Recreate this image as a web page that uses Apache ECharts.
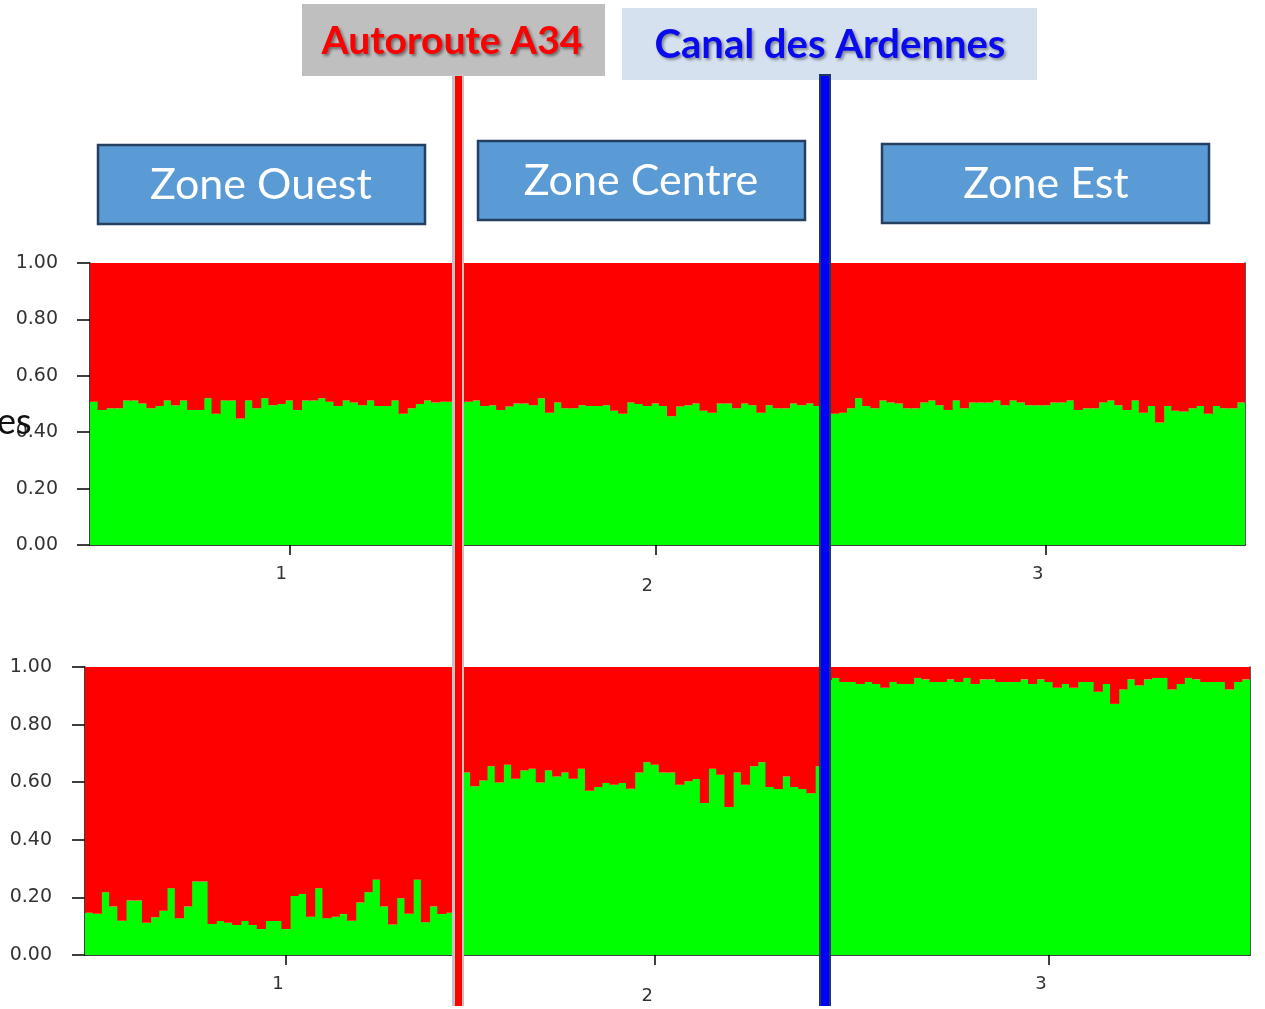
<!DOCTYPE html>
<html>
<head>
<meta charset="utf-8">
<script src="https://cdn.jsdelivr.net/npm/echarts@6/dist/echarts.min.js"></script>
<style>
  html, body { margin: 0; padding: 0; background: #ffffff; }
  #chart { width: 1265px; height: 1009px; }
</style>
</head>
<body>
<div id="chart"></div>
<script>
// Population sizes (number of individuals) and their axis labels
const popSizes = [45, 45, 52];
const popLabels = ['1', '2', '3'];
const zoneNames = ['Zone Ouest', 'Zone Centre', 'Zone Est'];
const barrierNames = ['Autoroute A34', 'Canal des Ardennes'];

// Upper run: membership of each individual in the green cluster
const runA_pop1 = [0.508,0.479,0.485,0.485,0.512,0.512,0.502,0.485,0.493,0.512,
                   0.496,0.512,0.479,0.479,0.520,0.465,0.512,0.512,0.449,0.512,
                   0.485,0.520,0.496,0.500,0.512,0.479,0.512,0.512,0.520,0.508,
                   0.493,0.512,0.505,0.496,0.512,0.493,0.493,0.512,0.465,0.485,
                   0.500,0.512,0.505,0.508,0.508];
const runA_pop2 = [0.505,0.508,0.512,0.493,0.496,0.479,0.491,0.502,0.502,0.496,
                   0.520,0.469,0.505,0.485,0.485,0.496,0.493,0.493,0.496,0.476,
                   0.465,0.505,0.500,0.493,0.502,0.493,0.457,0.491,0.496,0.502,
                   0.476,0.469,0.502,0.502,0.485,0.502,0.496,0.469,0.496,0.485,
                   0.485,0.502,0.496,0.502,0.493];
const runA_pop3 = [0.470,0.465,0.469,0.485,0.520,0.493,0.485,0.512,0.505,0.502,
                   0.485,0.485,0.505,0.512,0.496,0.479,0.512,0.485,0.505,0.505,
                   0.505,0.512,0.496,0.512,0.505,0.496,0.496,0.496,0.505,0.505,
                   0.512,0.479,0.485,0.485,0.505,0.512,0.496,0.479,0.512,0.469,
                   0.493,0.434,0.493,0.476,0.473,0.485,0.493,0.465,0.493,0.485,
                   0.485,0.505];

// Lower run: membership of each individual in the green cluster
const runB_pop1 = [0.147,0.143,0.218,0.168,0.119,0.189,0.189,0.112,0.131,0.154,
                   0.232,0.128,0.168,0.255,0.255,0.108,0.118,0.112,0.104,0.118,
                   0.104,0.090,0.118,0.118,0.090,0.205,0.212,0.133,0.232,0.128,
                   0.133,0.142,0.119,0.182,0.218,0.261,0.168,0.106,0.197,0.143,
                   0.261,0.114,0.168,0.142,0.147];
const runB_pop2 = [0.620,0.634,0.586,0.606,0.655,0.599,0.661,0.612,0.641,0.647,
                   0.599,0.641,0.620,0.634,0.612,0.647,0.570,0.583,0.597,0.591,
                   0.597,0.577,0.634,0.669,0.661,0.634,0.634,0.591,0.603,0.611,
                   0.528,0.647,0.626,0.514,0.634,0.591,0.655,0.669,0.583,0.576,
                   0.620,0.583,0.576,0.562,0.655];
const runB_pop3 = [0.955,0.962,0.948,0.948,0.941,0.948,0.941,0.928,0.948,0.941,
                   0.941,0.962,0.957,0.948,0.948,0.957,0.948,0.962,0.941,0.957,
                   0.957,0.948,0.948,0.948,0.957,0.941,0.957,0.948,0.928,0.941,
                   0.928,0.948,0.948,0.914,0.941,0.872,0.922,0.957,0.936,0.957,
                   0.962,0.962,0.922,0.941,0.962,0.957,0.948,0.948,0.948,0.922,
                   0.948,0.957];

const GREEN = '#00ff00';
const RED = '#ff0000';
const FONT_AXIS = '"DejaVu Sans", sans-serif';
const FONT_HEAD = 'Lato, "Noto Sans", sans-serif';

const runA = runA_pop1.concat(runA_pop2, runA_pop3);
const runB = runB_pop1.concat(runB_pop2, runB_pop3);
const individuals = runA.map((_, i) => String(i + 1));

// Category index carrying each population's tick and label
const labelIndex = [24, 69, 117];
const showAt = (idx) => labelIndex.indexOf(idx) >= 0;

function xAxisFor(gridIndex) {
  return {
    type: 'category',
    gridIndex: gridIndex,
    data: individuals,
    boundaryGap: true,
    axisLine: { show: true, lineStyle: { color: '#000', width: 1.5 } },
    axisTick: {
      show: true, alignWithLabel: true, length: 10,
      interval: (idx) => showAt(idx),
      lineStyle: { color: '#000', width: 1.5 }
    },
    axisLabel: {
      show: true,
      interval: (idx) => showAt(idx),
      margin: 20,
      formatter: (v, idx) => {
        const k = labelIndex.indexOf(idx);
        return k === 1 ? '{low|' + popLabels[k] + '}' : '{std|' + popLabels[k] + '}';
      },
      rich: {
        std: { fontFamily: FONT_AXIS, fontSize: 18, color: '#333', padding: [0, 16, 0, 0] },
        low: { fontFamily: FONT_AXIS, fontSize: 18, color: '#333', padding: [12, 16, 0, 0] }
      }
    },
    splitLine: { show: false }
  };
}

function yAxesFor(gridIndex, margin) {
  return [
    {
      type: 'value', gridIndex: gridIndex, min: 0, max: 1, interval: 0.2,
      axisLine: { show: true, lineStyle: { color: '#000', width: 1.5 } },
      axisTick: { show: true, length: 13, lineStyle: { color: '#000', width: 1.5 } },
      axisLabel: {
        margin: margin, fontFamily: FONT_AXIS, fontSize: 19, color: '#333',
        formatter: (v) => v.toFixed(2)
      },
      splitLine: { show: false }
    },
    {
      type: 'value', gridIndex: gridIndex, position: 'right', min: 0, max: 1,
      axisLine: { show: true, lineStyle: { color: '#222', width: 1.5 } },
      axisTick: { show: false }, axisLabel: { show: false }, splitLine: { show: false }
    }
  ];
}

function barPair(values, axisIndex) {
  const common = {
    type: 'bar', stack: 'run' + axisIndex,
    xAxisIndex: axisIndex, yAxisIndex: axisIndex * 2,
    barWidth: '112%', barGap: '-100%',
    silent: true, animation: false
  };
  return [
    Object.assign({}, common, {
      name: 'cluster green',
      data: values,
      itemStyle: { color: GREEN, borderWidth: 0 }
    }),
    Object.assign({}, common, {
      name: 'cluster red',
      data: values.map(v => +(1 - v).toFixed(3)),
      itemStyle: { color: RED, borderWidth: 0 }
    })
  ];
}

// Decorative header boxes and the two barrier lines
const zoneBoxes = [
  { x: 98, y: 145, cx: 261, cy: 185 },
  { x: 478, y: 141, cx: 641, cy: 181 },
  { x: 882, y: 144, cx: 1046, cy: 184 }
];
const graphics = [];
zoneBoxes.forEach((b, i) => {
  graphics.push({
    type: 'rect', z: 100,
    shape: { x: b.x, y: b.y, width: 327, height: 79 },
    style: { fill: '#5b9bd5', stroke: '#243f60', lineWidth: 2.5 }
  });
  graphics.push({
    type: 'text', z: 101,
    style: {
      text: zoneNames[i], x: b.cx, y: b.cy,
      textAlign: 'center', textVerticalAlign: 'middle',
      font: '43px ' + FONT_HEAD, fill: '#ffffff'
    }
  });
});

// Autoroute A34 label and line
graphics.push({
  type: 'rect', z: 100,
  shape: { x: 302, y: 4, width: 303, height: 72 },
  style: { fill: '#bfbfbf' }
});
graphics.push({
  type: 'text', z: 101,
  style: {
    text: barrierNames[0], x: 452, y: 41,
    textAlign: 'center', textVerticalAlign: 'middle',
    font: 'bold 39px ' + FONT_HEAD, fill: '#ff0000',
    textShadowColor: 'rgba(0,0,0,0.45)', textShadowBlur: 3,
    textShadowOffsetX: 2, textShadowOffsetY: 2
  }
});
graphics.push({
  type: 'rect', z: 110,
  shape: { x: 452, y: 74, width: 12, height: 932 },
  style: { fill: '#c4c4c4' }
});
graphics.push({
  type: 'rect', z: 111,
  shape: { x: 455, y: 76, width: 7, height: 930 },
  style: { fill: '#ff0000' }
});

// Canal des Ardennes label and line
graphics.push({
  type: 'rect', z: 100,
  shape: { x: 622, y: 8, width: 415, height: 72 },
  style: { fill: '#d5e1ef' }
});
graphics.push({
  type: 'text', z: 101,
  style: {
    text: barrierNames[1], x: 830, y: 45,
    textAlign: 'center', textVerticalAlign: 'middle',
    font: 'bold 40px ' + FONT_HEAD, fill: '#0a0af0',
    textShadowColor: 'rgba(0,0,0,0.4)', textShadowBlur: 3,
    textShadowOffsetX: 2, textShadowOffsetY: 2
  }
});
graphics.push({
  type: 'rect', z: 110,
  shape: { x: 819, y: 74, width: 12, height: 932 },
  style: { fill: '#203864' }
});
graphics.push({
  type: 'rect', z: 111,
  shape: { x: 821, y: 76, width: 8, height: 930 },
  style: { fill: '#0000ff' }
});

// Clipped word at the left edge
graphics.push({
  type: 'text', z: 105,
  style: {
    text: 'es', x: -3, y: 422,
    textAlign: 'left', textVerticalAlign: 'middle',
    font: '36px ' + FONT_HEAD, fill: '#111'
  }
});

const chart = echarts.init(document.getElementById('chart'), null, { renderer: 'canvas' });
chart.setOption({
  animation: false,
  backgroundColor: '#ffffff',
  grid: [
    { left: 90, top: 263, width: 1155, height: 282 },
    { left: 85, top: 667, width: 1165, height: 288 }
  ],
  xAxis: [xAxisFor(0), xAxisFor(1)],
  yAxis: yAxesFor(0, 32).concat(yAxesFor(1, 33)),
  series: barPair(runA, 0).concat(barPair(runB, 1)),
  graphic: graphics
});
</script>
</body>
</html>
